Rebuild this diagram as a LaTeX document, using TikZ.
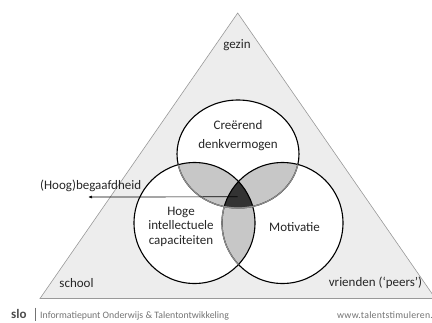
\documentclass[tikz,border=0pt]{standalone}
\usepackage{fontspec}
\setmainfont{Carlito}
\usetikzlibrary{arrows.meta}
\begin{document}
\begin{tikzpicture}[x=1pt,y=-1pt,
  lbl/.style={font=\fontsize{13}{14.5}\selectfont, text=black!85, align=center, inner sep=0pt},
  ring/.style={draw=black, line width=1.1pt},
  softring/.style={draw=black!45, line width=1.2pt},
  foot/.style={font=\fontsize{9.8}{11}\selectfont, text=black!55, inner sep=0pt, anchor=west}]
\useasboundingbox (0,0) rectangle (432,322);
\begin{scope}
\clip (0,0) rectangle (432,322);
% triangle
\coordinate (apex) at (237.7,13);
\coordinate (bl) at (40,298.5);
\coordinate (br) at (435.4,298.5);
\fill[black!7] (apex) -- (bl) -- (br) -- cycle;
\draw[black!40, line width=0.6pt] (apex) -- (bl) -- (br) -- cycle;
\end{scope}
% circles
\coordinate (ct) at (238,154);
\coordinate (cl) at (194.5,223);
\coordinate (cr) at (282.5,223);
\def\RX{61}\def\RY{54}\def\R{60.5}
\fill[white] (ct) ellipse [x radius=\RX, y radius=\RY] (cl) circle (\R) (cr) circle (\R);
% lenses
\begin{scope}\clip (ct) ellipse [x radius=\RX, y radius=\RY]; \fill[black!22] (cl) circle (\R); \fill[black!22] (cr) circle (\R);\end{scope}
\begin{scope}\clip (cl) circle (\R); \fill[black!22] (cr) circle (\R);\end{scope}
\begin{scope}\clip (ct) ellipse [x radius=\RX, y radius=\RY]; \clip (cl) circle (\R); \fill[black!80] (cr) circle (\R);\end{scope}
% outlines
\draw[ring] (ct) ellipse [x radius=\RX, y radius=\RY];
\draw[ring] (cl) circle (\R);
\draw[ring] (cr) circle (\R);
% softened arcs inside the overlaps
\begin{scope}\clip (cl) circle (\R); \draw[softring] (ct) ellipse [x radius=\RX, y radius=\RY];\end{scope}
\begin{scope}\clip (cr) circle (\R); \draw[softring] (ct) ellipse [x radius=\RX, y radius=\RY];\end{scope}
\begin{scope}\clip (cl) circle (\R); \clip (150,207) rectangle (300,300); \draw[softring] (cr) circle (\R);\end{scope}
% labels
\node[lbl] (gezin) at (237,45) {gezin};
\node[lbl] (creer) at (238,135.5) {Creërend\\[4pt]denkvermogen};
\node[lbl] (hoge) at (181,226.5) {Hoge\\intellectuele\\capaciteiten};
\node[lbl] (moti) at (294.5,227) {Motivatie};
\node[lbl] (school) at (76.5,283) {school};
\node[lbl] (vrienden) at (375.5,283) {vrienden (‘peers’)};
\node[lbl, anchor=west] (hoog) at (40,186) {(Hoog)begaafdheid};
\coordinate (core) at (237.5,196.8);
\coordinate (tip) at (88,197);
\draw[line width=0.7pt, -{Latex[length=4pt,width=3pt]}] (core) -- (tip);
% footer
\node[font=\bfseries\fontsize{13}{14}\selectfont, text=black!70, inner sep=0pt, anchor=west] (slo) at (11,314) {slo};
\draw[black!55, line width=0.6pt] (35.5,307.5) -- (35.5,320.5);
\node[foot] (info) at (40,315.5) {Informatiepunt Onderwijs \& Talentontwikkeling};
\node[foot] (www) at (337,315.5) {\addfontfeatures{LetterSpace=2.5}www.talentstimuleren.};
\end{tikzpicture}
\end{document}
